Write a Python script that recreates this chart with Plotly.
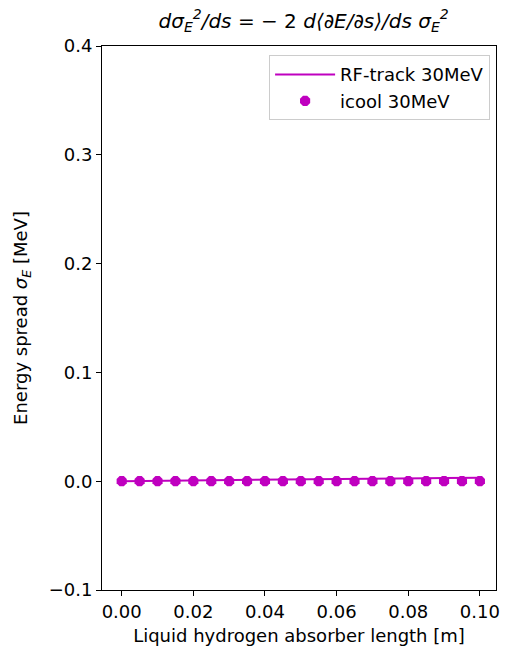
import plotly.graph_objects as go

x_rf = [0.0, 0.005, 0.01, 0.015, 0.02, 0.025, 0.03, 0.035, 0.04, 0.045, 0.05,
        0.055, 0.06, 0.065, 0.07, 0.075, 0.08, 0.085, 0.09, 0.095, 0.1]
y_rf = [0.0, 0.0002, 0.0004, 0.0006, 0.0008, 0.0009, 0.0011, 0.0013, 0.0014, 0.0016, 0.0017,
        0.0019, 0.0020, 0.0022, 0.0023, 0.0025, 0.0026, 0.0028, 0.0029, 0.0031, 0.0032]
x_icool = x_rf
y_icool = [0.0] * 21

col = "#bf00bf"
fig = go.Figure()
fig.add_trace(go.Scatter(x=x_rf, y=y_rf, mode="lines", name="RF-track 30MeV",
                         line=dict(color=col, width=2)))
fig.add_trace(go.Scatter(x=x_icool, y=y_icool, mode="markers", name="icool 30MeV",
                         marker=dict(color=col, size=11, symbol="octagon")))

font = "DejaVu Sans"
fs = 18
axis_common = dict(showline=True, linecolor="black", linewidth=1, mirror=True,
                   ticks="outside", ticklen=5, tickcolor="black", showgrid=False,
                   zeroline=False, tickfont=dict(family=font, size=fs, color="black"))
fig.update_layout(
    width=506, height=650,
    margin=dict(l=102, r=6, t=46, b=60),
    paper_bgcolor="white", plot_bgcolor="white",
    font=dict(family=font, color="black"),
    title=dict(text="<i>dσ<sub>E</sub><sup>2</sup>/ds</i> = − 2 <i>d⟨∂E/∂s⟩/ds σ<sub>E</sub><sup>2</sup></i>",
               x=0.6, xanchor="center", y=0.968, yanchor="middle",
               font=dict(family=font, size=20)),
    xaxis=dict(range=[-0.0055, 0.1045], tickvals=[0, 0.02, 0.04, 0.06, 0.08, 0.1],
               ticktext=["0.00", "0.02", "0.04", "0.06", "0.08", "0.10"],
               title=dict(text="Liquid hydrogen absorber length [m]", font=dict(family=font, size=fs), standoff=8),
               **axis_common),
    yaxis=dict(range=[-0.1, 0.4], tickvals=[-0.1, 0, 0.1, 0.2, 0.3, 0.4],
               ticktext=["−0.1", "0.0", "0.1", "0.2", "0.3", "0.4"],
               title=dict(text="Energy spread <i>σ<sub>E</sub></i> [MeV]", font=dict(family=font, size=fs), standoff=16),
               **axis_common),
    legend=dict(x=0.985, y=0.983, xanchor="right", yanchor="top", bordercolor="#cccccc",
                borderwidth=1, bgcolor="rgba(255,255,255,0.8)", itemwidth=60,
                tracegroupgap=6,
                font=dict(family=font, size=fs)),
    showlegend=True,
)
fig.write_html("out.html")
